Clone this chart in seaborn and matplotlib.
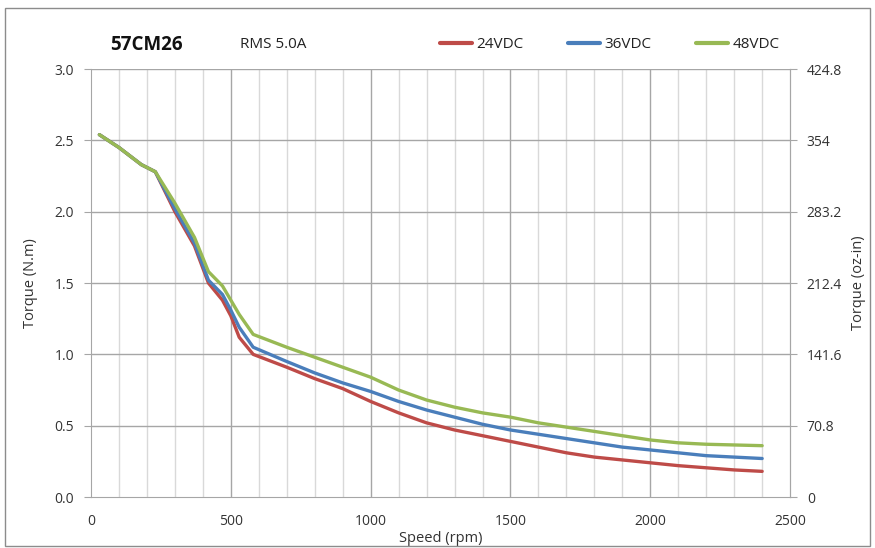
import numpy as np
import pandas as pd
import matplotlib
matplotlib.use("Agg")
import matplotlib.pyplot as plt
from matplotlib.patches import Rectangle
import seaborn as sns

speed = [30, 100, 180, 230, 300, 370, 420, 470, 500, 530, 580, 700, 800, 900, 1000,
         1100, 1200, 1300, 1400, 1500, 1600, 1700, 1800, 1900, 2000, 2100, 2200, 2300, 2400]
torque_24 = [2.54, 2.45, 2.33, 2.28, 2.00, 1.76, 1.50, 1.38, 1.27, 1.12, 1.00, 0.91, 0.83, 0.76, 0.67,
             0.59, 0.52, 0.47, 0.43, 0.39, 0.35, 0.31, 0.28, 0.26, 0.24, 0.22, 0.205, 0.19, 0.18]
torque_36 = [2.54, 2.45, 2.33, 2.28, 2.02, 1.78, 1.52, 1.42, 1.31, 1.19, 1.05, 0.95, 0.87, 0.80, 0.74,
             0.67, 0.61, 0.56, 0.51, 0.47, 0.44, 0.41, 0.38, 0.35, 0.33, 0.31, 0.29, 0.28, 0.27]
torque_48 = [2.54, 2.45, 2.33, 2.28, 2.06, 1.82, 1.58, 1.48, 1.38, 1.28, 1.14, 1.05, 0.98, 0.91, 0.84,
             0.75, 0.68, 0.63, 0.59, 0.56, 0.52, 0.49, 0.46, 0.43, 0.40, 0.38, 0.37, 0.365, 0.36]
series = ["24VDC", "36VDC", "48VDC"]
colors = ["#be4b48", "#4a7ebb", "#98b954"]
oz_labels = ["0", "70.8", "141.6", "212.4", "283.2", "354", "424.8"]

df = pd.DataFrame({
    "speed": speed * 3,
    "torque": torque_24 + torque_36 + torque_48,
    "series": [s for s in series for _ in speed],
})

sns.set_style("white")
plt.rcParams["font.family"] = ["Open Sans", "DejaVu Sans"]

fig = plt.figure(figsize=(8.75, 5.48), dpi=100)
ax = fig.add_axes([0.104, 0.093, 0.799, 0.781])

# light minor grid every 100 rpm, darker at every 500
for x in range(100, 2500, 100):
    ax.axvline(x, color="#a6a6a6" if x % 500 == 0 else "#d9d9d9", lw=1.0, zorder=0)
for y in np.arange(0.5, 3.01, 0.5):
    ax.axhline(y, color="#a6a6a6", lw=1.0, zorder=0)

sns.lineplot(data=df, x="speed", y="torque", hue="series", palette=colors,
             linewidth=2.4, ax=ax, legend=False, zorder=3)

ax.set_xlim(0, 2500)
ax.set_ylim(0, 3.0)
ax.set_xticks(range(0, 2501, 500))
ax.set_yticks(np.arange(0, 3.01, 0.5))
ax.set_yticklabels([f"{v:.1f}" for v in np.arange(0, 3.01, 0.5)])
ax.tick_params(axis="both", direction="out", length=5, color="#a6a6a6",
               labelsize=10, labelcolor="#333333", pad=7)
for side in ["left", "bottom", "right"]:
    ax.spines[side].set_color("#a6a6a6")
ax.spines["top"].set_visible(False)
ax.set_xlabel("Speed (rpm)", fontsize=10.5, color="#333333", labelpad=2)
ax.set_ylabel("Torque (N.m)", fontsize=10.5, color="#333333", labelpad=12)

ax2 = ax.twinx()
ax2.set_ylim(0, 3.0)
ax2.set_yticks(np.arange(0, 3.01, 0.5))
ax2.set_yticklabels(oz_labels)
ax2.tick_params(axis="y", direction="out", length=5, color="#a6a6a6",
                labelsize=10, labelcolor="#333333", pad=7)
for side in ["left", "bottom", "right", "top"]:
    ax2.spines[side].set_visible(side == "right")
ax2.spines["right"].set_color("#a6a6a6")
ax2.set_ylabel("Torque (oz-in)", fontsize=10.5, color="#333333", labelpad=6)

fig.text(0.126, 0.918, "57CM26", fontsize=13.5, fontweight="bold", color="#111111", va="center")
fig.text(0.274, 0.918, "RMS 5.0A", fontsize=11, color="#222222", va="center")

handles = [plt.Line2D([], [], color=c, lw=3) for c in colors]
fig.legend(handles, series, loc="center", bbox_to_anchor=(0.697, 0.918), ncol=3,
           frameon=False, fontsize=11, handlelength=2.1, handletextpad=0.3,
           columnspacing=2.9, labelcolor="#222222")

fig.patches.append(Rectangle((0.006, 0.004), 0.988, 0.982, transform=fig.transFigure,
                             fill=False, edgecolor="#8c8c8c", lw=1.0))

fig.savefig("out.png", dpi=100)
